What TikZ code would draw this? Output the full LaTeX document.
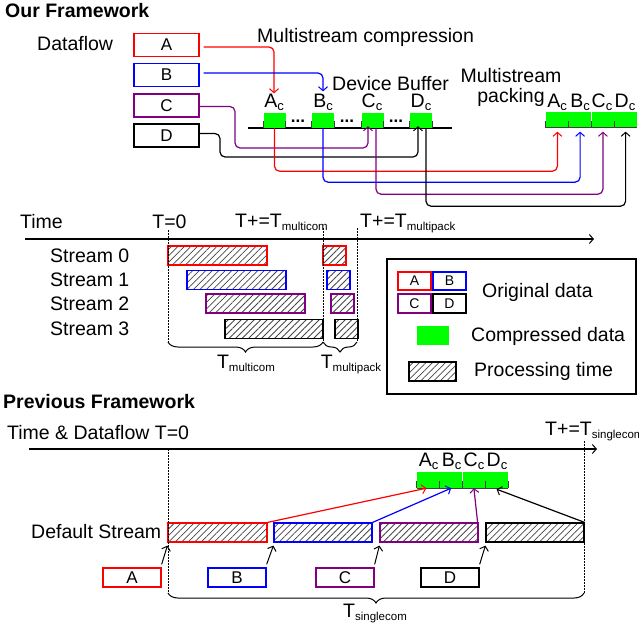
\documentclass[tikz,border=0pt]{standalone}
\usepackage{fontspec}
\setmainfont{Liberation Sans}
\usetikzlibrary{arrows.meta,patterns.meta,decorations.pathreplacing}
\definecolor{cred}{RGB}{255,0,0}
\definecolor{cblue}{RGB}{0,0,255}
\definecolor{cpurple}{RGB}{128,0,128}
\definecolor{cgreen}{RGB}{0,255,0}
\definecolor{chatch}{RGB}{70,70,70}
\newcommand\sbsc[1]{\raisebox{-3pt}{\fontsize{13}{13}\selectfont #1}}
\newcommand\sbsw[1]{\raisebox{-3pt}{\fontsize{11.5}{12}\selectfont #1}}
\begin{document}
\begin{tikzpicture}[x=1pt,y=-1pt,
  txt/.style={font=\fontsize{19.5}{20}\selectfont, inner sep=0},
  ttl/.style={font=\fontsize{19.5}{20}\selectfont\bfseries, inner sep=0, anchor=west},
  databox/.style={draw, line width=1.3pt, minimum width=65pt, minimum height=23pt, inner sep=0, font=\fontsize{17}{17}\selectfont},
  inbox/.style={draw, line width=1.3pt, minimum width=58pt, minimum height=19pt, inner sep=0, font=\fontsize{17}{17}\selectfont},
  legbox/.style={draw, line width=1.2pt, minimum width=33pt, minimum height=18pt, inner sep=0, font=\fontsize{14}{14}\selectfont},
  buf/.style={fill=cgreen, minimum width=22pt, minimum height=15pt, inner sep=0},
  seg/.style={fill=cgreen, minimum width=22.75pt, minimum height=16pt, inner sep=0},
  hatch/.style={pattern={Lines[angle=45,distance=4.6pt,line width=0.8pt]}, pattern color=chatch},
  bar/.style={draw, line width=1.2pt, minimum height=19pt, inner sep=0, hatch},
  arr/.style={-{Straight Barb[length=4pt,width=9pt,line width=1pt]}, line width=1.2pt},
  dots/.style={dash pattern=on 1.5pt off 1.5pt, line width=1pt},
  tick/.style={line width=1pt, black!75},
  elli/.style={inner sep=0, anchor=base, font=\fontsize{17}{17}\selectfont\bfseries},
  bracedn/.style={decorate, decoration={brace, mirror, amplitude=10pt}, line width=1pt}
]
\useasboundingbox (0,0) rectangle (639,626);

% ================= Our Framework =================
\node[ttl] (title1) at (5,11) {Our Framework};
\node[txt, anchor=west] (dataflow) at (37,44) {Dataflow};
\node[databox, draw=cred] (A) at (166.5,45) {A};
\node[databox, draw=cblue] (B) at (166.5,75) {B};
\node[databox, draw=cpurple] (C) at (166.5,105.5) {C};
\node[databox, draw=black] (D) at (166.5,135.5) {D};

\node[txt, anchor=west] (mcomp) at (257,37) {Multistream compression};
\node[txt, anchor=west] (devbuf) at (332,83.5) {Device Buffer};

% device buffer
\coordinate (bufL) at (248,128);
\coordinate (bufR) at (452,128);
\draw[line width=1.3pt] (bufL) -- (bufR);
\node[buf] (Ac) at (274.5,120.5) {};
\node[buf] (Bc) at (323,120.5) {};
\node[buf] (Cc) at (372.5,120.5) {};
\node[buf] (Dc) at (421,120.5) {};
\foreach \n in {Ac,Bc,Cc,Dc}{
  \draw[tick] (\n.south west) -- ++(0,-7);
  \draw[tick] (\n.south east) -- ++(0,-7);
}
\node[txt, anchor=base] (AcL) at (274,107) {A\sbsc{c}};
\node[txt, anchor=base] (BcL) at (323,107) {B\sbsc{c}};
\node[txt, anchor=base] (CcL) at (372,107) {C\sbsc{c}};
\node[txt, anchor=base] (DcL) at (421,107) {D\sbsc{c}};
\node[elli] (dots1) at (298,122.5) {...};
\node[elli] (dots2) at (347,122.5) {...};
\node[elli] (dots3) at (396,122.5) {...};

% packing
\node[txt, align=center, anchor=center] (mpack) at (511,87) {Multistream\\packing};
\node[seg] (Pa) at (557.4,119.5) {};
\node[seg] (Pb) at (580.1,119.5) {};
\node[seg] (Pc) at (602.9,119.5) {};
\node[seg] (Pd) at (625.6,119.5) {};
\draw[tick] (Pa.south west) -- (Pd.south east);
\foreach \n in {Pa,Pb,Pc,Pd}{ \draw[tick] (\n.south west) -- ++(0,-7); }
\node[txt, anchor=base] (PaL) at (557,107) {A\sbsc{c}};
\node[txt, anchor=base] (PbL) at (580,107) {B\sbsc{c}};
\node[txt, anchor=base] (PcL) at (602,107) {C\sbsc{c}};
\node[txt, anchor=base] (PdL) at (625,107) {D\sbsc{c}};

% flows in
\draw[arr, cred, rounded corners=5pt] ([shift={(4,2)}]A.east) -| (AcL.north);
\draw[arr, cblue, rounded corners=5pt] ([shift={(4,-2)}]B.east) -| ([yshift=2pt]BcL.north);
\draw[arr, cpurple, rounded corners=5pt] ([yshift=-1pt]C.east) -| (235,148) -| ([shift={(-4.5,-2)}]Cc.south);
\draw[arr, black, rounded corners=5pt] ([yshift=2pt]D.east) -| (220,157) -| ([shift={(-3,-2)}]Dc.south);
% flows out
\draw[arr, cred, rounded corners=5pt] (Ac.south) -- ++(0,43) -| ([yshift=-4pt]Pa.south);
\draw[arr, cblue, rounded corners=5pt] (Bc.south) -- ++(0,54) -| ([yshift=-4pt]Pb.south);
\draw[arr, cpurple, rounded corners=5pt] ([xshift=3.5pt]Cc.south) -- ++(0,66) -| ([yshift=-4pt]Pc.south);
\draw[arr, black, rounded corners=5pt] ([xshift=5pt]Dc.south) -- ++(0,78) -| ([yshift=-4pt]Pd.south);

% ================= timeline =================
\node[txt, anchor=west] (time) at (20,222) {Time};
\coordinate (tax0) at (25,239);
\coordinate (tax1) at (594,239);
\draw[arr, line width=1.3pt] (tax0) -- (tax1);
\node[txt, anchor=base] (t0) at (169.5,228) {T=0};
\node[txt, anchor=base west] (tmc) at (235,227) {T+=T\sbsw{multicom}};
\node[txt, anchor=base west] (tmp) at (360,227) {T+=T\sbsw{multipack}};

\node[txt, anchor=west] (s0) at (50,255.5) {Stream 0};
\node[txt, anchor=west] (s1) at (50,279.5) {Stream 1};
\node[txt, anchor=west] (s2) at (50,303.5) {Stream 2};
\node[txt, anchor=west] (s3) at (50,328.5) {Stream 3};

\node[bar, draw=cred, minimum width=99pt] (S0) at (217.5,255.5) {};
\node[bar, draw=cblue, minimum width=99pt] (S1) at (236.5,280) {};
\node[bar, draw=cpurple, minimum width=99pt] (S2) at (255.5,303.5) {};
\node[bar, draw=black, minimum width=98pt] (S3) at (274,329) {};
\node[bar, draw=cred, minimum width=23pt] (P0) at (334.5,255.5) {};
\node[bar, draw=cblue, minimum width=23pt] (P1) at (338.5,280) {};
\node[bar, draw=cpurple, minimum width=23pt] (P2) at (342.5,303.5) {};
\node[bar, draw=black, minimum width=23pt] (P3) at (346.5,329) {};

\draw[dots] (168,230) -- (168,342);
\draw[dots] (323,228) -- (323,342);
\draw[dots] (357,228) -- (357,342);
\draw[bracedn] (168,342) -- (323,342);
\draw[bracedn] (323,342) -- (357,342);
\node[txt, anchor=base] (tmcl) at (246,368) {T\sbsw{multicom}};
\node[txt, anchor=base] (tmpl) at (351,368) {T\sbsw{multipack}};

% legend
\node[draw, line width=1.3pt, minimum width=249pt, minimum height=135pt, inner sep=0] (legend) at (511.5,326.5) {};
\node[legbox, draw=cred] (LA) at (414.5,281) {A};
\node[legbox, draw=cblue] (LB) at (449.5,281) {B};
\node[legbox, draw=cpurple, minimum height=19pt] (LC) at (414.5,303.5) {C};
\node[legbox, draw=black, minimum height=19pt] (LD) at (449.5,303.5) {D};
\node[txt, anchor=west] (lorig) at (482,292) {Original data};
\node[fill=cgreen, minimum width=32pt, minimum height=19pt, inner sep=0] (LG) at (433,335.5) {};
\node[txt, anchor=west] (lcomp) at (471,336) {Compressed data};
\node[draw, line width=1.2pt, hatch, minimum width=47pt, minimum height=19pt, inner sep=0] (LH) at (432.5,371.5) {};
\node[txt, anchor=west] (lproc) at (474,371.5) {Processing time};

% ================= Previous Framework =================
\node[ttl] (title2) at (3,402) {Previous Framework};
\node[txt, anchor=west] (tdf) at (7,433) {Time \& Dataflow T=0};
\coordinate (pax0) at (29,449);
\coordinate (pax1) at (597,449);
\draw[arr, line width=1.3pt] (pax0) -- (pax1);
\node[txt, anchor=base west] (tsc) at (545,435) {T+=T\sbsw{singlecom}};

\node[seg, minimum height=16pt] (Qa) at (428.4,480) {};
\node[seg, minimum height=16pt] (Qb) at (451.1,480) {};
\node[seg, minimum height=16pt] (Qc) at (473.9,480) {};
\node[seg, minimum height=16pt] (Qd) at (496.6,480) {};
\draw[tick] (Qa.south west) -- (Qd.south east);
\foreach \n in {Qa,Qb,Qc,Qd}{ \draw[tick] (\n.south west) -- ++(0,-7); }
\draw[tick] (Qd.south east) -- ++(0,-7);
\node[txt, anchor=base] (QaL) at (428.5,466) {A\sbsc{c}};
\node[txt, anchor=base] (QbL) at (451.5,466) {B\sbsc{c}};
\node[txt, anchor=base] (QcL) at (474,466) {C\sbsc{c}};
\node[txt, anchor=base] (QdL) at (497,466) {D\sbsc{c}};

\node[txt, anchor=west] (dstream) at (31,532) {Default Stream};
\node[bar, draw=cred, minimum width=99pt] (D0) at (217.5,532.5) {};
\node[bar, draw=cblue, minimum width=98pt] (D1) at (323,532.5) {};
\node[bar, draw=cpurple, minimum width=98pt] (D2) at (429,532.5) {};
\node[bar, draw=black, minimum width=98pt] (D3) at (535,532.5) {};

\draw[arr, cred] (D0.north east) -- ([xshift=-2pt]Qa.south);
\draw[arr, cblue] (D1.north east) -- (Qb.south);
\draw[arr, cpurple] ([xshift=-1pt]D2.north east) -- (Qc.south);
\draw[arr, black] (D3.north east) -- ([yshift=-1pt]Qd.south);

\node[inbox, draw=cred] (IA) at (132,577.5) {A};
\node[inbox, draw=cblue] (IB) at (237,577.5) {B};
\node[inbox, draw=cpurple] (IC) at (345,577.5) {C};
\node[inbox, draw=black] (ID) at (450,577.5) {D};
\draw[arr, line width=1pt] ([yshift=3pt]IA.north east) -- ([yshift=-3pt]D0.south west);
\draw[arr, line width=1pt] ([yshift=3pt]IB.north east) -- ([yshift=-3pt]D1.south west);
\draw[arr, line width=1pt] ([yshift=3pt]IC.north east) -- ([yshift=-3pt]D2.south west);
\draw[arr, line width=1pt] ([yshift=3pt]ID.north east) -- ([yshift=-3pt]D3.south west);

\draw[dots] (168,449) -- (168,593);
\draw[dots] (584,441) -- (584,593);
\draw[bracedn] (168,593) -- (584,593);
\node[txt, anchor=base] (tscl) at (375,617) {T\sbsw{singlecom}};
\end{tikzpicture}
\end{document}
